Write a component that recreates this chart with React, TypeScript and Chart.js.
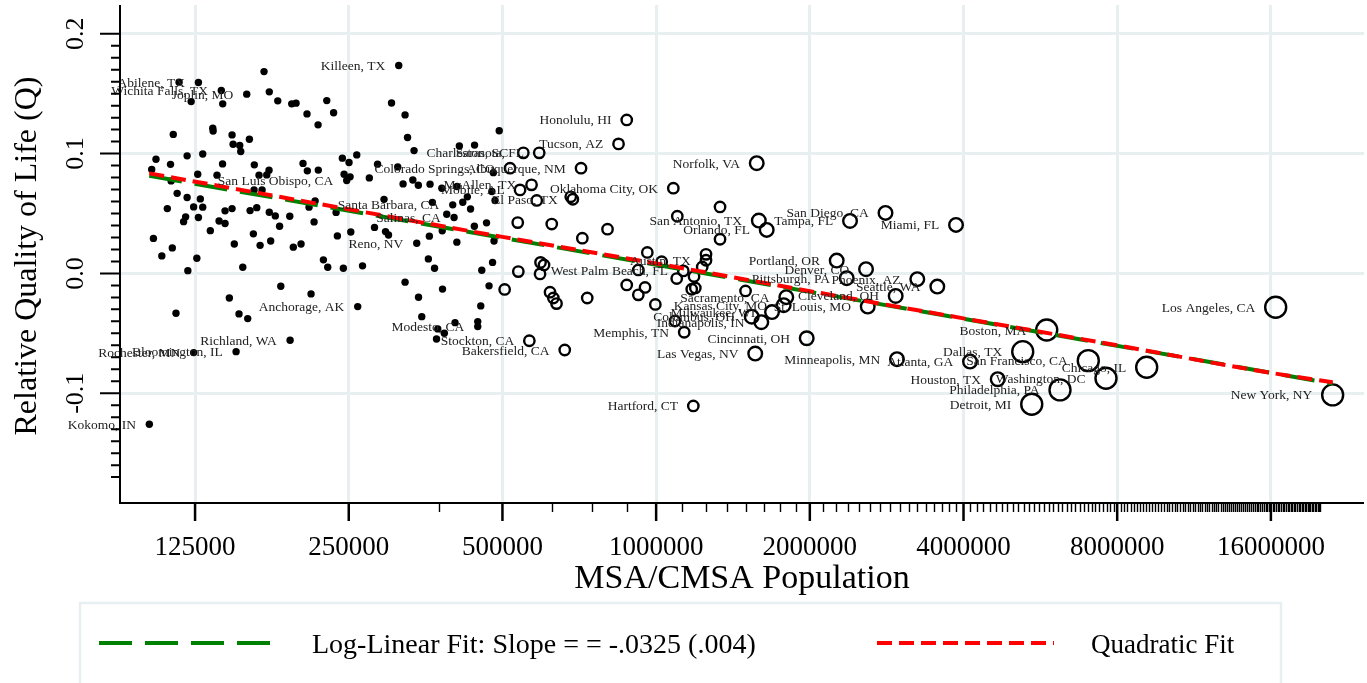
import React, { useEffect, useRef } from 'react';
import { Chart, registerables } from 'chart.js';

Chart.register(...registerables);

const W = 1367;
const H = 683;
const SERIF = "'Liberation Serif', 'Times New Roman', Times, serif";

// ---- data: MSA name ('' = unlabeled), population, relative quality of life ----
const cityNames: string[] = [
  'Kokomo, IN', '', '', '', '', '', '', '', '', '',
  '', '', '', '', '', '', '', '', '', '',
  'Rochester, MN', '', '', 'Abilene, TX', '', '', '', '', '', '',
  '', '', '', 'Wichita Falls, TX', '', '', '', '', '', '',
  '', '', '', 'Bloomington, IL', '', '', '', '', 'Joplin, MO', '',
  '', '', '', '', '', '', '', '', '', '',
  '', '', '', '', '', '', '', '', '', '',
  'Richland, WA', '', '', '', '', '', '', '', '', '',
  '', '', '', '', '', '', '', '', '', '',
  '', '', '', '', 'San Luis Obispo, CA', '', '', '', 'Anchorage, AK', '',
  '', '', '', '', '', '', '', '', 'Killeen, TX', '',
  '', '', '', '', '', 'Reno, NV', '', '', '', '',
  '', '', '', '', '', '', '', '', '', '',
  '', 'Santa Barbara, CA', 'Salinas, CA', '', '', '', '', '', '', '',
  '', '', '', 'Modesto, CA', '', '', '', '', '', '',
  '', '', '', '',
  // open circles
  '', 'Colorado Springs, CO', '', '', 'Mobile, AL', 'Charleston, SC', 'Stockton, CA', 'McAllen, TX', '', 'Sarasota, FL',
  '', '', '', '', '', '', '', 'Bakersfield, CA', '', 'El Paso, TX',
  'Albuquerque, NM', '', '', '', 'Tucson, AZ', 'Honolulu, HI', '', '', '', '',
  '', '', '', 'Oklahoma City, OK', '', '', '', 'West Palm Beach, FL', 'Memphis, TN', '',
  'Hartford, CT', '', '', '', '', 'Austin, TX', '', '', '', 'Columbus, OH',
  'Las Vegas, NV', 'Norfolk, VA', 'San Antonio, TX', 'Indianapolis, IN', 'Orlando, FL', 'Milwaukee, WI', 'Kansas City, MO', 'Sacramento, CA', 'Cincinnati, OH', 'Portland, OR',
  'Pittsburgh, PA', 'Tampa, FL', 'Denver, CO', 'St. Louis, MO', 'San Diego, CA', 'Cleveland, OH', 'Minneapolis, MN', 'Phoenix, AZ', 'Seattle, WA', 'Miami, FL',
  'Atlanta, GA', 'Houston, TX', 'Dallas, TX', 'Detroit, MI', 'Boston, MA', 'Philadelphia, PA', 'San Francisco, CA', 'Washington, DC', 'Chicago, IL', 'Los Angeles, CA',
  'New York, NY',
];

const population: number[] = [
  101700, 102800, 103600, 104800, 107600, 110300, 111900, 112200, 112800, 113300,
  114700, 115300, 116300, 118700, 119800, 120600, 120600, 121000, 122800, 124200,
  124200, 126000, 126500, 126900, 126900, 128000, 129400, 129400, 133900, 135400,
  135600, 138000, 139300, 140700, 141500, 141600, 143100, 143100, 145900, 147700,
  147700, 148400, 149200, 150400, 152400, 152900, 153600, 155000, 157800, 158500,
  159700, 160200, 162600, 163100, 163300, 165100, 166800, 167600, 169100, 170600,
  172700, 174500, 174700, 174700, 175800, 179500, 181500, 183000, 184000, 191600,
  191900, 193300, 197100, 194700, 201600, 203400, 207100, 207400, 209000, 210900,
  213800, 214800, 217700, 217900, 223000, 226400, 227400, 233500, 236100, 237500,
  242900, 244000, 244800, 250300, 247700, 251500, 252300, 259200, 260300, 266000,
  274300, 280800, 284700, 293100, 295100, 299100, 303200, 311800, 313200, 319400,
  322300, 322300, 325900, 333800, 335600, 339700, 342200, 342500, 347500, 358000,
  359600, 360700, 364500, 368100, 371400, 373500, 380400, 381100, 381600, 384700,
  388900, 399600, 402000, 403800, 407100, 407400, 411700, 418100, 426800, 433000,
  440900, 440500, 447300, 447300, 453400, 455500, 465400, 470700, 476700, 478200,
  479900, 481400, 483600, 492800,
  505000, 517400, 535700, 537100, 541300, 549400, 564500, 570100, 583600, 590200,
  593700, 603100, 592400, 619700, 624500, 629000, 638100, 662200, 680400, 686800,
  712700, 716900, 732900, 803100, 844000, 875800, 875800, 922800, 922800, 951100,
  961000, 996400, 1025500, 1080600, 1088800, 1097300, 1100200, 1130400, 1135000, 1174100,
  1182600, 1186300, 1193300, 1231000, 1252300, 1252300, 1334000, 1334000, 1496600, 1539000,
  1563500, 1574100, 1589100, 1607000, 1646600, 1686500, 1777700, 1798600, 1972200, 2257900,
  2362000, 2397500, 2577100, 2597000, 2813500, 2945800, 2963100, 3247600, 3554100, 3867100,
  4118800, 4667000, 5224500, 5441300, 5821600, 6181000, 7022000, 7606000, 9138000, 16350000,
  21140000,
];

const quality: number[] = [
  -0.1259, 0.0868, 0.0292, 0.0953, 0.0146, 0.0541, 0.0910, 0.0772, 0.0213, 0.1160,
  -0.0332, 0.0668, 0.1596, 0.0432, 0.0472, 0.0981, 0.0634, 0.0023, 0.1434, 0.0555,
  -0.0661, 0.0127, 0.0828, 0.1593, 0.0467, 0.0622, 0.0997, 0.0553, 0.0357, 0.1212,
  0.1189, 0.0820, 0.0438, 0.1526, 0.0914, 0.1415, 0.0522, 0.0417, -0.0205, 0.0541,
  0.1156, 0.1078, 0.0246, -0.0653, -0.0338, 0.1067, 0.1017, 0.0052, 0.1496, -0.0377,
  0.1120, 0.0524, 0.0330, 0.0697, 0.0906, 0.0549, 0.0820, 0.0234, 0.0697, 0.1684,
  0.0822, 0.0861, 0.1515, 0.0511, 0.0271, 0.0480, 0.1440, 0.0394, -0.0107, 0.0477,
  -0.0558, 0.1415, 0.1421, 0.0219, 0.0246, 0.0918, 0.1331, 0.0856, 0.0553, -0.0171,
  0.0430, 0.0605, 0.1240, 0.0862, 0.0113, 0.1442, 0.0052, 0.1341, 0.0509, 0.0313,
  0.0962, 0.0043, 0.0828, 0.0925, 0.0775, 0.0806, 0.0346, 0.0989, -0.0277, 0.0063,
  0.0797, 0.0384, 0.0912, 0.0618, 0.0349, 0.0321, 0.1422, 0.0889, 0.1735, 0.0747,
  0.1323, -0.0073, 0.1134, 0.0780, 0.1025, 0.0252, 0.0736, -0.0199, -0.0361, 0.0121,
  0.0311, 0.0745, 0.0593, 0.0043, -0.0547, -0.0463, 0.0711, 0.0355, -0.0131, -0.0499,
  0.0494, 0.0572, 0.0467, -0.0411, 0.0261, 0.0725, 0.1063, 0.0594, 0.0639, 0.0537,
  0.1071, 0.0394, -0.0402, -0.0444, -0.0271, 0.0027, 0.0422, -0.0104, 0.0683, 0.0092,
  0.0841, 0.0271, 0.0609, 0.1191,
  -0.0134, 0.0878, 0.0424, 0.0015, 0.0697, 0.1006, -0.0562, 0.0739, 0.0609, 0.1006,
  0.0092, 0.0071, -0.0004, -0.0157, 0.0412, -0.0205, -0.0252, -0.0639, 0.0639, 0.0619,
  0.0878, 0.0294, -0.0205, 0.0369, 0.1081, 0.1281, -0.0096, 0.0029, -0.0179, -0.0117,
  0.0175, -0.0259, 0.0098, 0.0711, -0.0397, -0.0043, 0.0477, 0.0021, -0.0491, -0.0132,
  -0.1106, -0.0025, -0.0121, 0.0054, 0.0159, 0.0110, 0.0555, 0.0285, -0.0146, -0.0361,
  -0.0669, 0.0920, 0.0441, -0.0407, 0.0363, -0.0323, -0.0265, -0.0198, -0.0541, 0.0107,
  -0.0040, 0.0438, 0.0035, -0.0277, 0.0505, -0.0188, -0.0716, -0.0048, -0.0110, 0.0405,
  -0.0736, -0.0883, -0.0653, -0.1092, -0.0472, -0.0972, -0.0728, -0.0875, -0.0783, -0.0282,
  -0.1014,
];

// fitted lines
const linearFitPopulation = [101700, 21140000];
const linearFitQ = [0.0815, -0.092];
const quadFitPopulation = [101700, 250000, 500000, 1000000, 2000000, 4000000, 8000000, 16000000, 21140000];
const quadFitQ = [0.0835, 0.0535, 0.0305, 0.0083, -0.0148, -0.0375, -0.06, -0.083, -0.0908];

// axes
const xMajorTicks = [125000, 250000, 500000, 1000000, 2000000, 4000000, 8000000, 16000000];
const xTickLabels = ['125000', '250000', '500000', '1000000', '2000000', '4000000', '8000000', '16000000'];
const xMinorStep = 125000;
const xMinorLast = 20000000;
const yMajorTicks = [-0.1, 0, 0.1, 0.2];
const yTickLabels = ['-0.1', '0.0', '0.1', '0.2'];
const yMinorStep = 0.01;
const yMinorFirst = -0.17;
const yMinorLast = 0.2;

const legendLinearText = 'Log-Linear Fit: Slope = = -.0325 (.004)';
const legendQuadText = 'Quadratic Fit';
const xTitle = 'MSA/CMSA Population';
const yTitle = 'Relative Quality of Life (Q)';

const GRID = 'rgb(232,239,241)';

function markerRadius(p: number): number {
  if (p < 500000) return 3.7;
  if (p < 1500000) return 5.2;
  if (p < 5000000) return 6.8;
  return 10.5;
}

export default function App() {
  const ref = useRef<HTMLCanvasElement>(null);

  useEffect(() => {
    const canvas = ref.current;
    if (!canvas) return;
    const idx = population.map((_, i) => i);
    const small = idx.filter((i) => population[i] < 500000);
    const large = idx.filter((i) => population[i] >= 500000);

    const decor = {
      id: 'decor',
      beforeDraw(chart: any) {
        const ctx = chart.ctx;
        ctx.save();
        ctx.fillStyle = '#ffffff';
        ctx.fillRect(0, 0, chart.width, chart.height);
        ctx.restore();
      },
      afterDatasetsDraw(chart: any) {
        const ctx = chart.ctx;
        const xs = chart.scales.x;
        const ys = chart.scales.y;
        ctx.save();
        ctx.font = `13.5px ${SERIF}`;
        ctx.fillStyle = '#222222';
        ctx.textAlign = 'right';
        ctx.textBaseline = 'middle';
        cityNames.forEach((name, i) => {
          if (!name) return;
          const px = xs.getPixelForValue(population[i]);
          const py = ys.getPixelForValue(quality[i]);
          const r = population[i] < 500000 ? 3.4 : markerRadius(population[i]);
          ctx.fillText(name, px - r - 10, py + 1);
        });
        ctx.restore();
      },
      afterDraw(chart: any) {
        const ctx = chart.ctx;
        const a = chart.chartArea;
        const xs = chart.scales.x;
        const ys = chart.scales.y;
        ctx.save();
        ctx.strokeStyle = '#000';
        ctx.fillStyle = '#000';

        // x minor ticks
        ctx.lineWidth = 1.4;
        ctx.beginPath();
        for (let v = xMinorStep; v <= xMinorLast + 1; v += xMinorStep) {
          if (xMajorTicks.includes(v)) continue;
          const px = Math.round(xs.getPixelForValue(v)) + 0.5;
          ctx.moveTo(px, a.bottom);
          ctx.lineTo(px, a.bottom + 9);
        }
        ctx.stroke();
        // x major ticks
        ctx.lineWidth = 2.5;
        ctx.beginPath();
        xMajorTicks.forEach((v) => {
          const px = xs.getPixelForValue(v);
          ctx.moveTo(px, a.bottom);
          ctx.lineTo(px, a.bottom + 18);
        });
        ctx.stroke();
        // y ticks
        ctx.lineWidth = 2;
        ctx.beginPath();
        const nY = Math.round((yMinorLast - yMinorFirst) / yMinorStep);
        for (let k = 0; k <= nY; k++) {
          const v = yMinorFirst + k * yMinorStep;
          const isMajor = yMajorTicks.some((m) => Math.abs(m - v) < 1e-6);
          const py = ys.getPixelForValue(v);
          ctx.moveTo(a.left, py);
          ctx.lineTo(a.left - (isMajor ? 20 : 9), py);
        }
        ctx.stroke();

        // axis lines
        ctx.lineWidth = 2;
        ctx.beginPath();
        ctx.moveTo(a.left, a.top);
        ctx.lineTo(a.left, a.bottom + 1);
        ctx.moveTo(a.left - 1, a.bottom);
        ctx.lineTo(a.right, a.bottom);
        ctx.stroke();

        // x tick labels
        ctx.font = `27px ${SERIF}`;
        ctx.textAlign = 'center';
        ctx.textBaseline = 'alphabetic';
        xMajorTicks.forEach((v, i) => {
          ctx.fillText(xTickLabels[i], xs.getPixelForValue(v), a.bottom + 52);
        });
        // y tick labels (rotated)
        ctx.font = `26px ${SERIF}`;
        yMajorTicks.forEach((v, i) => {
          ctx.save();
          ctx.translate(83, ys.getPixelForValue(v));
          ctx.rotate(-Math.PI / 2);
          ctx.textAlign = 'center';
          ctx.textBaseline = 'alphabetic';
          ctx.fillText(yTickLabels[i], 0, 0);
          ctx.restore();
        });

        // axis titles
        ctx.font = `34px ${SERIF}`;
        ctx.textAlign = 'center';
        ctx.fillText(xTitle, (a.left + a.right) / 2, 588);
        ctx.save();
        ctx.font = `32px ${SERIF}`;
        ctx.translate(36, (a.top + a.bottom) / 2 + 2);
        ctx.rotate(-Math.PI / 2);
        ctx.textAlign = 'center';
        ctx.fillText(yTitle, 0, 0);
        ctx.restore();

        // legend
        ctx.strokeStyle = GRID;
        ctx.lineWidth = 2.5;
        ctx.strokeRect(80, 603, 1201, 120);
        const ly = 643;
        ctx.lineWidth = 4;
        ctx.strokeStyle = '#008000';
        ctx.setLineDash([33, 13]);
        ctx.beginPath();
        ctx.moveTo(99, ly);
        ctx.lineTo(271, ly);
        ctx.stroke();
        ctx.strokeStyle = '#ff0000';
        ctx.setLineDash([15, 7]);
        ctx.beginPath();
        ctx.moveTo(877, ly);
        ctx.lineTo(1054, ly);
        ctx.stroke();
        ctx.setLineDash([]);
        ctx.fillStyle = '#000';
        ctx.textAlign = 'left';
        ctx.textBaseline = 'alphabetic';
        ctx.font = `28px ${SERIF}`;
        ctx.fillText(legendLinearText, 312, 653);
        ctx.font = `27px ${SERIF}`;
        ctx.fillText(legendQuadText, 1091, 653);
        ctx.restore();
      },
    };

    const chart = new Chart(canvas, {
      type: 'scatter',
      data: {
        datasets: [
          {
            label: legendQuadText,
            type: 'line',
            data: quadFitPopulation.map((p, i) => ({ x: p, y: quadFitQ[i] })),
            borderColor: '#ff0000',
            borderWidth: 4,
            borderDash: [15, 7],
            pointRadius: 0,
            showLine: true,
            fill: false,
            cubicInterpolationMode: 'monotone',
            order: 0,
          } as any,
          {
            label: 'Log-Linear Fit',
            type: 'line',
            data: linearFitPopulation.map((p, i) => ({ x: p, y: linearFitQ[i] })),
            borderColor: '#008000',
            borderWidth: 4,
            borderDash: [33, 13],
            pointRadius: 0,
            showLine: true,
            fill: false,
            order: 1,
          } as any,
          {
            label: 'Large MSAs',
            data: large.map((i) => ({ x: population[i], y: quality[i] })),
            pointRadius: (c: any) => markerRadius(c.raw ? c.raw.x : 600000),
            pointBackgroundColor: 'rgba(0,0,0,0)',
            pointBorderColor: '#000',
            pointBorderWidth: 2.4,
            order: 2,
          } as any,
          {
            label: 'Small MSAs',
            data: small.map((i) => ({ x: population[i], y: quality[i] })),
            pointRadius: 3.7,
            pointBackgroundColor: '#000',
            pointBorderColor: '#000',
            pointBorderWidth: 0,
            order: 3,
          } as any,
        ],
      },
      options: {
        responsive: false,
        animation: false,
        devicePixelRatio: 1,
        events: [],
        layout: { autoPadding: false, padding: { left: 120, right: 3, top: 5, bottom: 180 } },
        plugins: { legend: { display: false }, tooltip: { enabled: false } },
        scales: {
          x: {
            type: 'logarithmic',
            min: 89100,
            max: 24350000,
            afterBuildTicks: (s: any) => {
              s.ticks = xMajorTicks.map((v) => ({ value: v }));
            },
            ticks: { display: false },
            grid: { color: GRID, lineWidth: 3, drawTicks: false },
            border: { display: false },
          },
          y: {
            type: 'linear',
            min: -0.1916,
            max: 0.224,
            afterBuildTicks: (s: any) => {
              s.ticks = yMajorTicks.map((v) => ({ value: v }));
            },
            ticks: { display: false },
            grid: { color: GRID, lineWidth: 3, drawTicks: false },
            border: { display: false },
          },
        },
      } as any,
      plugins: [decor],
    });
    return () => chart.destroy();
  }, []);

  return (
    <canvas
      ref={ref}
      width={W}
      height={H}
      style={{ position: 'fixed', left: 0, top: 0, width: W, height: H }}
    />
  );
}
